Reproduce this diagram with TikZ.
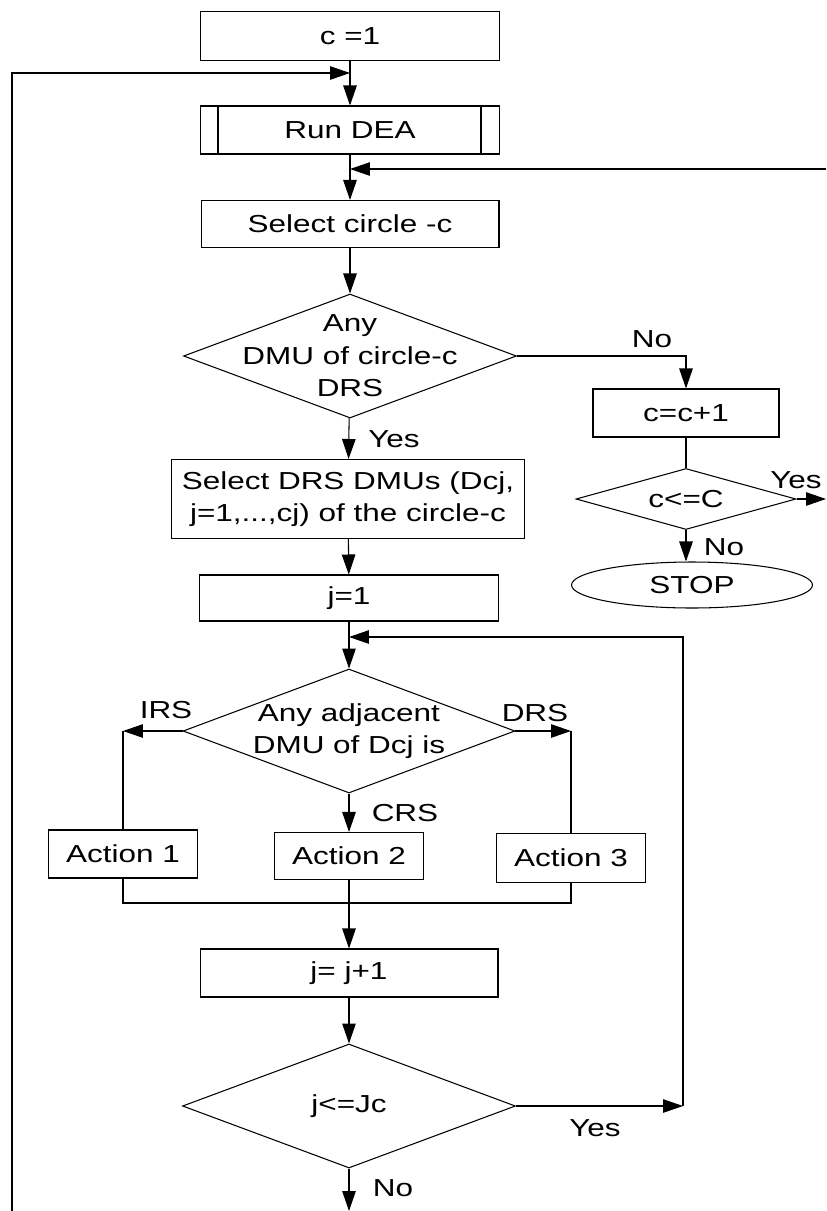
\documentclass[tikz,border=0pt]{standalone}
\usepackage{fontspec}
\setmainfont{Liberation Sans}[FakeStretch=1.28]
\usetikzlibrary{arrows.meta,shapes.geometric}
\newcommand{\flowfont}{\fontsize{14pt}{18.5pt}\selectfont}

\begin{document}
\begin{tikzpicture}[x=0.02cm, y=-0.02cm, line width=0.6pt,
  every node/.style={font=\flowfont},
  box/.style={draw, inner sep=2pt, align=center},
  dec/.style={draw, diamond, inner sep=0pt},
  dtxt/.style={align=center, inner sep=0pt},
  lbl/.style={inner sep=0pt},
  arr/.style={-{Triangle[length=4mm, width=2.7mm]}}]
\useasboundingbox (0,0) rectangle (826,1211);
% main column
\node[box, minimum width=5.98cm, minimum height=0.98cm] (c1) at (350,36) {c =1};
\node[box, minimum width=5.98cm, minimum height=0.96cm] (run) at (350,130) {Run DEA};
\draw ([xshift=0.36cm]run.north west) -- ([xshift=0.36cm]run.south west);
\draw ([xshift=-0.38cm]run.north east) -- ([xshift=-0.38cm]run.south east);
\node[box, minimum width=5.96cm, minimum height=0.94cm] (selc) at (350,224) {Select circle -c};
\node[dec, minimum width=6.66cm, minimum height=2.48cm,
      label={[dtxt]center:Any\\DMU of circle-c\\DRS}] (d1) at (350,356) {};
\node[box, minimum width=7.08cm, minimum height=1.58cm] (seld) at (348,499) {Select DRS DMUs (Dcj,\\j=1,...,cj) of the circle-c};
\node[box, minimum width=5.98cm, minimum height=0.92cm] (j1) at (349,598) {j=1};
\node[dec, minimum width=6.64cm, minimum height=2.48cm,
      label={[dtxt]center:Any adjacent\\DMU of Dcj is}] (d2) at (349,731) {};
\node[box, minimum width=2.98cm, minimum height=0.96cm] (a1) at (123,854) {Action 1};
\node[box, minimum width=2.98cm, minimum height=0.94cm] (a2) at (349,856) {Action 2};
\node[box, minimum width=2.98cm, minimum height=0.98cm] (a3) at (571,858) {Action 3};
\node[box, minimum width=5.96cm, minimum height=0.96cm] (jj1) at (349,973) {j= j+1};
\node[dec, minimum width=6.66cm, minimum height=2.48cm,
      label={[dtxt]center:j<=Jc}] (d3) at (349,1106) {};
% right column
\node[box, minimum width=3.72cm, minimum height=0.96cm] (cc1) at (686,413) {c=c+1};
\node[dec, minimum width=4.4cm, minimum height=1.22cm,
      label={[dtxt]center:c<=C}] (d4) at (686,499) {};
\node[draw, ellipse, inner sep=0pt, minimum width=4.82cm, minimum height=0.92cm] (stop) at (692,585) {STOP};
% branch labels
\node[lbl] (no1) at (652,339) {No};
\node[lbl] (yes1) at (394,439) {Yes};
\node[lbl] (yes2) at (796,480) {Yes};
\node[lbl] (no2) at (724,547) {No};
\node[lbl] (irs) at (166,710) {IRS};
\node[lbl] (drs) at (535,713) {DRS};
\node[lbl] (crs) at (405,813) {CRS};
\node[lbl] (yes3) at (595,1128) {Yes};
\node[lbl] (no3) at (393,1188) {No};
% junctions
\coordinate (m1) at (350,73);
\coordinate (m2) at (350,169);
\coordinate (m3) at (349,637);
\coordinate (lft) at (12,1211);
\coordinate (rgt) at (826,169);
\coordinate (yend) at (826,499);
\coordinate (bot) at (349,1211);
\coordinate (ia) at (a1.north |- d2.west);
\coordinate (da) at (a3.north |- d2.east);
\coordinate (cl) at (123,903);
\coordinate (cr) at (571,903);
\coordinate (ry) at (683,1106);
% connectors
\draw[arr] (c1) -- (run);
\draw[arr] (lft) |- (m1);
\draw[arr] (rgt) -- (m2);
\draw[arr] (run) -- (selc);
\draw[arr] (selc) -- (d1);
\draw[arr] (d1) -- (seld);
\draw[arr] (d1.east) -| (cc1.north);
\draw (cc1) -- (d4);
\draw[arr] (d4.east) -- (yend);
\draw[arr] (d4.south) -- (d4.south |- stop.north);
\draw[arr] (seld) -- (j1);
\draw[arr] (j1) -- (d2);
\draw[arr] (d2.west) -- (ia);
\draw (ia) -- (a1.north);
\draw[arr] (d2.east) -- (da);
\draw (da) -- (a3.north);
\draw[arr] (d2) -- (a2);
\draw (a1.south) -- (cl) -- (cr) -- (a3.south);
\draw[arr] (a2) -- (jj1);
\draw[arr] (jj1) -- (d3);
\draw[arr] (d3.east) -- (ry);
\draw[arr] (ry) |- (m3);
\draw[arr] (d3) -- (bot);
\end{tikzpicture}
\end{document}
